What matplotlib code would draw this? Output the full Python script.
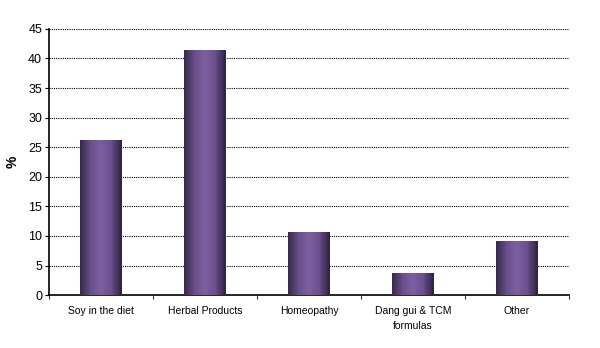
import matplotlib.pyplot as plt
import numpy as np
from matplotlib.colors import LinearSegmentedColormap

plt.rcParams['font.family'] = ['Liberation Sans', 'DejaVu Sans']

categories = ["Soy in the diet", "Herbal Products", "Homeopathy",
              "Dang gui & TCM\nformulas", "Other"]
values = [26.2, 41.4, 10.6, 3.8, 9.2]

fig = plt.figure(figsize=(6, 3.48), dpi=100)
ax = fig.add_axes([0.0817, 0.152, 0.8666, 0.765])

x = np.arange(len(categories))
bars = ax.bar(x, values, width=0.4, color='#6a4f88', zorder=3)

# shaded cylinder look: dark edges, lighter middle
cmap = LinearSegmentedColormap.from_list(
    "purp", ["#36284a", "#6b4f8c", "#7d5fa0", "#6b4f8c", "#2e2240"])
grad = np.linspace(0, 1, 64).reshape(1, -1)
for b in bars:
    x0, y0 = b.get_x(), b.get_y()
    im = ax.imshow(grad, cmap=cmap, aspect='auto', zorder=4,
                   extent=[x0, x0 + b.get_width(), y0, y0 + b.get_height()])
    im.set_clip_path(b)

ax.set_xlim(-0.5, len(categories) - 0.5)
ax.set_ylim(0, 45)
ax.set_yticks(range(0, 46, 5))
ax.tick_params(axis='y', labelsize=9, length=3, direction='out', pad=2)

ax.set_xticks(x)
ax.set_xticklabels(categories, fontsize=7.5, linespacing=1.6)
ax.tick_params(axis='x', length=0, pad=8)
ax.set_xticks(np.arange(-0.5, len(categories) + 0.5, 1), minor=True)
ax.tick_params(axis='x', which='minor', length=3, direction='out')

ax.yaxis.grid(True, linestyle=(0, (1, 1)), color='black', linewidth=0.8, zorder=0)
ax.set_axisbelow(True)
for s in ['top', 'right']:
    ax.spines[s].set_visible(False)
for s in ['left', 'bottom']:
    ax.spines[s].set_linewidth(1.2)

ax.set_ylabel('%', fontsize=10, fontweight='bold', labelpad=6)

fig.savefig('out.png', dpi=100)
